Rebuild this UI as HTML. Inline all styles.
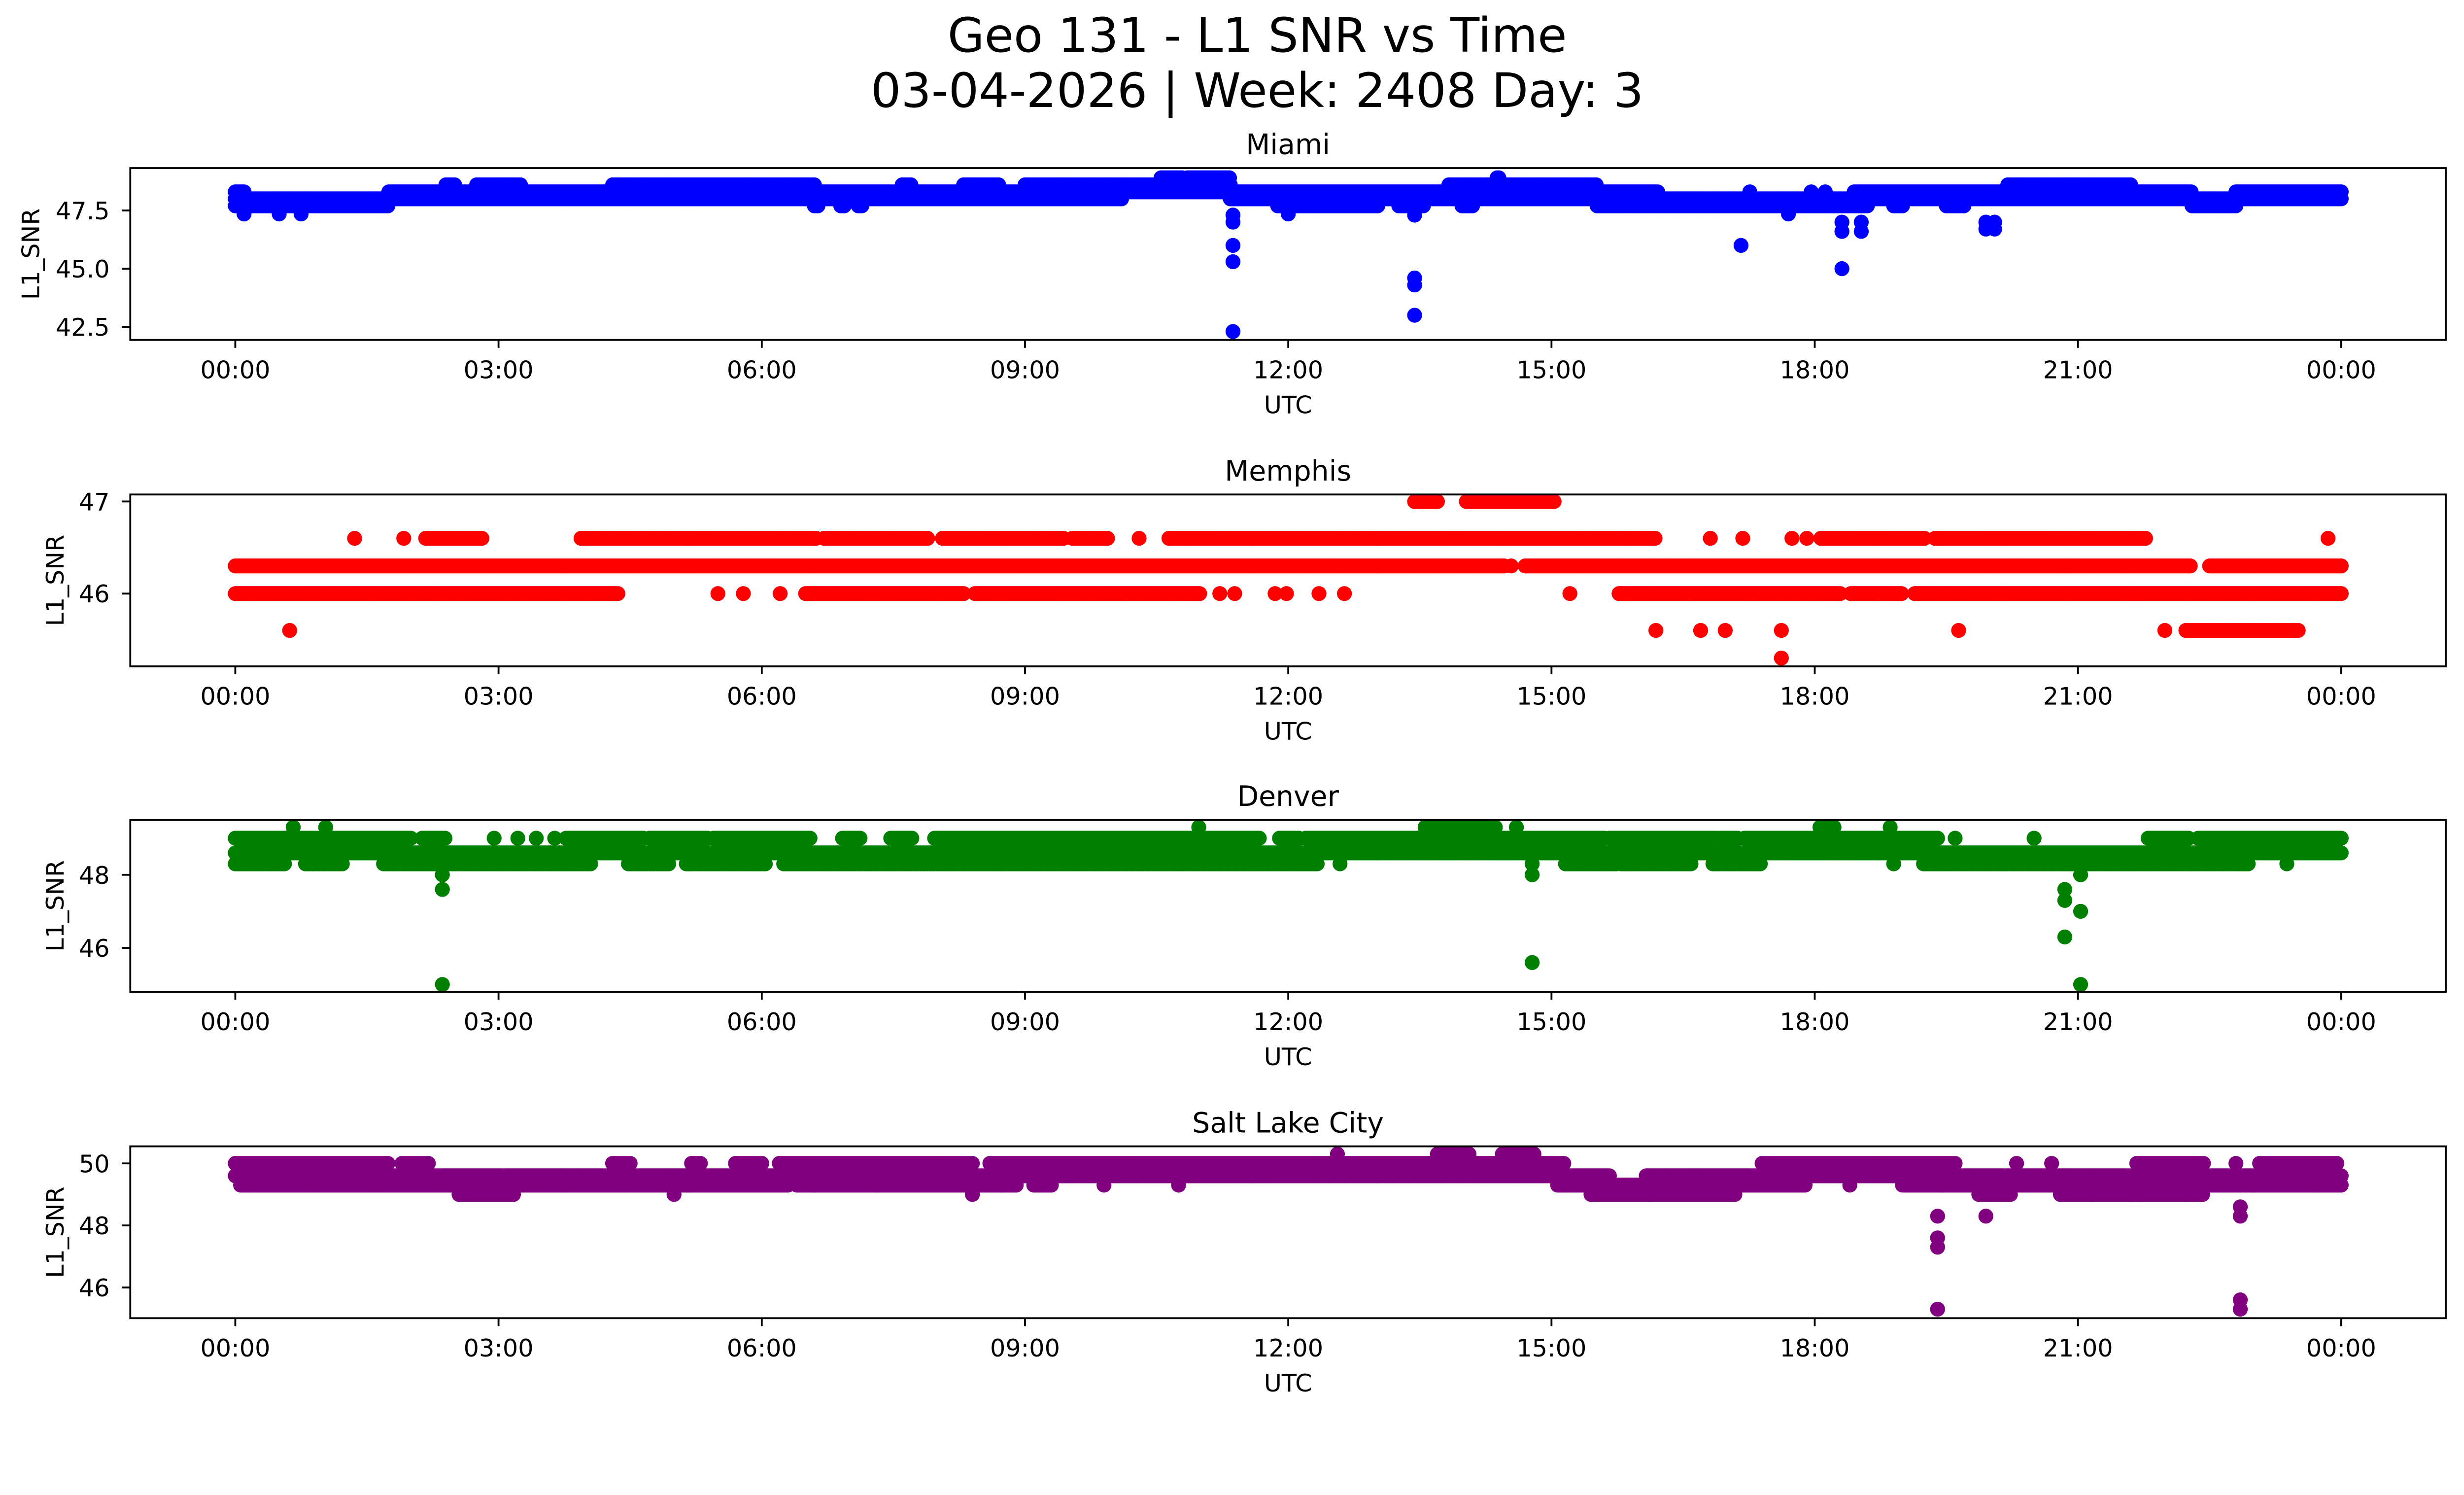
<!DOCTYPE html>
<html><head><meta charset="utf-8"><style>
html,body{margin:0;padding:0;background:#fff;overflow:hidden;}
svg{display:block;font-family:"DejaVu Sans","Liberation Sans",sans-serif;width:100vw;height:calc(100vw * 3033 / 5278);}
</style></head><body>
<svg id="fig" viewBox="0 0 5278 3033" preserveAspectRatio="xMinYMin meet" xmlns="http://www.w3.org/2000/svg">
<rect x="0" y="0" width="5278" height="3033" fill="#fff"/>
<text x="2693" y="111" font-size="102" text-anchor="middle">Geo 131 - L1 SNR vs Time</text>
<text x="2693" y="229" font-size="102" text-anchor="middle">03-04-2026 | Week: 2408 Day: 3</text>
</svg>
<script>
const xTickHours=[0,3,6,9,12,15,18,21,24];
const xTickLabels=["00:00","03:00","06:00","09:00","12:00","15:00","18:00","21:00","00:00"];
const stations=["Miami","Memphis","Denver","Salt Lake City"];
const colors=["#0000ff","#ff0000","#008000","#800080"];
const yLimits=[[41.94,49.32],[45.21,47.076],[44.80,49.50],[45.01,50.55]];
const yTicks=[[42.5,45.0,47.5],[46,47],[46,48],[46,48,50]];
const yTickLabels=[["42.5","45.0","47.5"],["46","47"],["46","48"],["46","48","50"]];
// segments: [startHour, endHour, SNR]
const miamiSegments=[[10.55,10.8,48.9],[10.85,11.34,48.9],[14.38,14.4,48.9],
[2.4,2.5,48.6],[2.75,3.25,48.6],[4.3,6.6,48.6],[7.6,7.7,48.6],[8.3,8.7,48.6],[9.0,11.34,48.6],[13.83,15.52,48.6],[20.2,21.6,48.6],
[0,0.1,48.3],[1.75,16.22,48.3],[17.26,17.27,48.3],[17.96,17.97,48.3],[18.12,18.13,48.3],[18.45,22.3,48.3],[22.8,24,48.3],
[0,10.1,48.0],[11.34,24,48.0],
[0,1.75,47.7],[6.6,6.65,47.7],[6.9,6.95,47.7],[7.1,7.15,47.7],[11.88,13.02,47.7],[13.26,13.54,47.7],[13.98,14.1,47.7],[15.52,18.6,47.7],[18.9,19.0,47.7],[19.5,19.7,47.7],[22.3,22.8,47.7]];
const miamiOutliers=[[0.1,47.35],[0.5,47.35],[0.75,47.35],[11.37,47.3],[11.37,47.0],[11.37,46.0],[11.37,45.3],[11.37,42.3],[13.44,47.3],[13.44,44.6],[13.44,44.3],[13.44,43.0],[17.16,46.0],[18.31,47.0],[18.31,46.6],[18.31,45.0],[18.53,47.0],[18.53,46.6],[19.95,47.0],[19.95,46.7],[20.05,47.0],[20.05,46.7],[12.0,47.35],[17.7,47.35]];
const memphisSegments=[[0,14.46,46.3],[14.54,14.55,46.3],[14.7,22.28,46.3],[22.5,24,46.3],
[1.36,1.37,46.6],[1.92,1.93,46.6],[2.17,2.81,46.6],[3.94,6.63,46.6],[6.71,7.89,46.6],[8.06,9.44,46.6],[9.54,9.94,46.6],[10.3,10.31,46.6],[10.64,16.19,46.6],[16.81,16.82,46.6],[17.18,17.19,46.6],[17.74,17.75,46.6],[17.91,17.92,46.6],[18.07,19.25,46.6],[19.37,21.78,46.6],[23.85,23.86,46.6],
[0,4.36,46.0],[5.5,5.51,46.0],[5.79,5.8,46.0],[6.21,6.22,46.0],[6.5,8.31,46.0],[8.43,11.0,46.0],[11.22,11.23,46.0],[11.39,11.4,46.0],[11.85,11.86,46.0],[11.98,11.99,46.0],[12.35,12.36,46.0],[12.64,12.65,46.0],[15.21,15.22,46.0],[15.77,18.29,46.0],[18.41,19.0,46.0],[19.14,24,46.0],
[13.44,13.7,47.0],[14.03,15.04,47.0],[22.23,23.51,45.6]];
const memphisOutliers=[[0.62,45.6],[16.19,45.6],[16.7,45.6],[16.98,45.6],[17.62,45.6],[19.64,45.6],[21.99,45.6],[17.62,45.3]];
const denverSegments=[[0,24,48.6],
[0,2.0,49.0],[2.13,2.4,49.0],[2.95,2.96,49.0],[3.22,3.23,49.0],[3.43,3.44,49.0],[3.64,3.65,49.0],[3.77,4.65,49.0],[4.72,5.39,49.0],[5.45,6.55,49.0],[6.92,7.13,49.0],[7.47,7.72,49.0],[7.97,11.68,49.0],[11.9,12.13,49.0],[12.2,15.6,49.0],[15.66,16.88,49.0],[16.92,17.13,49.0],[17.2,19.4,49.0],[19.6,19.61,49.0],[20.5,20.51,49.0],[21.8,22.27,49.0],[22.37,22.77,49.0],[22.8,23.4,49.0],[23.42,24,49.0],
[0.66,0.67,49.3],[1.03,1.04,49.3],[10.98,10.99,49.3],[13.56,14.36,49.3],[14.6,14.61,49.3],[18.06,18.23,49.3],[18.86,18.87,49.3],
[0,0.57,48.3],[0.8,1.23,48.3],[1.69,4.06,48.3],[4.48,4.94,48.3],[5.14,6.04,48.3],[6.25,12.34,48.3],[12.59,12.6,48.3],[14.78,14.79,48.3],[15.16,15.74,48.3],[15.79,16.59,48.3],[16.84,17.39,48.3],[18.9,18.91,48.3],[19.24,22.94,48.3],[23.38,23.39,48.3]];
const denverOutliers=[[2.36,48.0],[2.36,47.6],[2.36,45.0],[14.78,48.0],[14.78,45.6],[20.85,47.6],[20.85,47.3],[20.85,46.3],[21.03,48.0],[21.03,47.0],[21.03,45.0]];
const slcSegments=[[0,15.66,49.6],[16.08,24,49.6],
[0,1.75,50.0],[1.9,2.2,50.0],[4.3,4.5,50.0],[5.2,5.3,50.0],[5.7,6.0,50.0],[6.2,8.4,50.0],[8.6,15.15,50.0],[17.4,19.57,50.0],[19.6,19.61,50.0],[20.3,20.31,50.0],[20.7,20.71,50.0],[21.67,22.43,50.0],[22.8,22.81,50.0],[23.07,23.95,50.0],
[12.56,12.57,50.3],[13.7,14.06,50.3],[14.44,14.8,50.3],
[0.06,6.3,49.3],[6.4,8.9,49.3],[9.1,9.3,49.3],[9.9,9.91,49.3],[10.75,10.76,49.3],[15.07,17.89,49.3],[18.4,18.41,49.3],[19.0,24,49.3],
[2.55,3.18,49.0],[5.0,5.01,49.0],[8.4,8.41,49.0],[15.45,17.1,49.0],[19.87,20.24,49.0],[20.8,22.43,49.0]];
const slcOutliers=[[19.4,48.3],[19.4,47.6],[19.4,47.3],[19.4,45.3],[19.95,48.3],[22.85,48.6],[22.85,48.3],[22.85,45.6],[22.85,45.3]];

const allSegments=[miamiSegments,memphisSegments,denverSegments,slcSegments];
const allOutliers=[miamiOutliers,memphisOutliers,denverOutliers,slcOutliers];
const panelTops=[360,1059,1756,2455];
const panelH=368, L=279, R=5239, X0=504, X1=5015, MR=16;
const NS="http://www.w3.org/2000/svg";
const svg=document.getElementById('fig');
function mk(tag,attrs,parent){const e=document.createElementNS(NS,tag);for(const k in attrs)e.setAttribute(k,attrs[k]);(parent||svg).appendChild(e);return e;}
function xScale(h){return X0+h/24*(X1-X0);}
stations.forEach((name,i)=>{
  const top=panelTops[i], bot=top+panelH, lim=yLimits[i];
  const yScale=v=>bot-(v-lim[0])/(lim[1]-lim[0])*panelH;
  const g=mk('g',{});
  
  
  const clip=mk('clipPath',{id:'clip'+i},g);
  mk('rect',{x:L,y:top,width:R-L,height:panelH},clip);
  const pts=mk('g',{fill:colors[i],'clip-path':'url(#clip'+i+')'},g);
  
  
  allSegments[i].forEach(s=>{
    for(let h=s[0];h<=s[1]+1e-9;h+=0.02){
      const c=mk('circle',{cx:xScale(h).toFixed(1),cy:yScale(s[2]).toFixed(1),r:MR},pts);
      
      
    }
  });
  allOutliers[i].forEach(p=>{
    const c=mk('circle',{cx:xScale(p[0]).toFixed(1),cy:yScale(p[1]).toFixed(1),r:MR},pts);
    
    
  });
  const fr=mk('rect',{x:L,y:top,width:R-L,height:panelH,fill:'none',stroke:'#000','stroke-width':4},g);
  
  
  xTickHours.forEach((h,k)=>{
    const x=xScale(h);
    mk('line',{x1:x,x2:x,y1:bot,y2:bot+17,stroke:'#000','stroke-width':4},g);
    const t=mk('text',{x:x,y:bot+82,'font-size':52,'text-anchor':'middle'},g);
    t.textContent=xTickLabels[k];
    
    
  });
  yTicks[i].forEach((v,k)=>{
    const y=yScale(v);
    mk('line',{x1:L-18,x2:L,y1:y,y2:y,stroke:'#000','stroke-width':4},g);
    const t=mk('text',{x:235,y:y+19,'font-size':52,'text-anchor':'end'},g);
    t.textContent=yTickLabels[i][k];
    
    
  });
  const xl=mk('text',{x:(L+R)/2,y:bot+157,'font-size':52,'text-anchor':'middle'},g);
  xl.textContent='UTC';
  
  
  const yc=i===0?84:136;
  const yl=mk('text',{x:yc,y:top+panelH/2,'font-size':52,'text-anchor':'middle',transform:'rotate(-90 '+yc+' '+(top+panelH/2)+')'},g);
  yl.textContent='L1_SNR';
  
  
  const tt=mk('text',{x:(L+R)/2,y:top-30,'font-size':60,'text-anchor':'middle'},g);
  tt.textContent=name;
  
  
});
</script>
</body></html>
